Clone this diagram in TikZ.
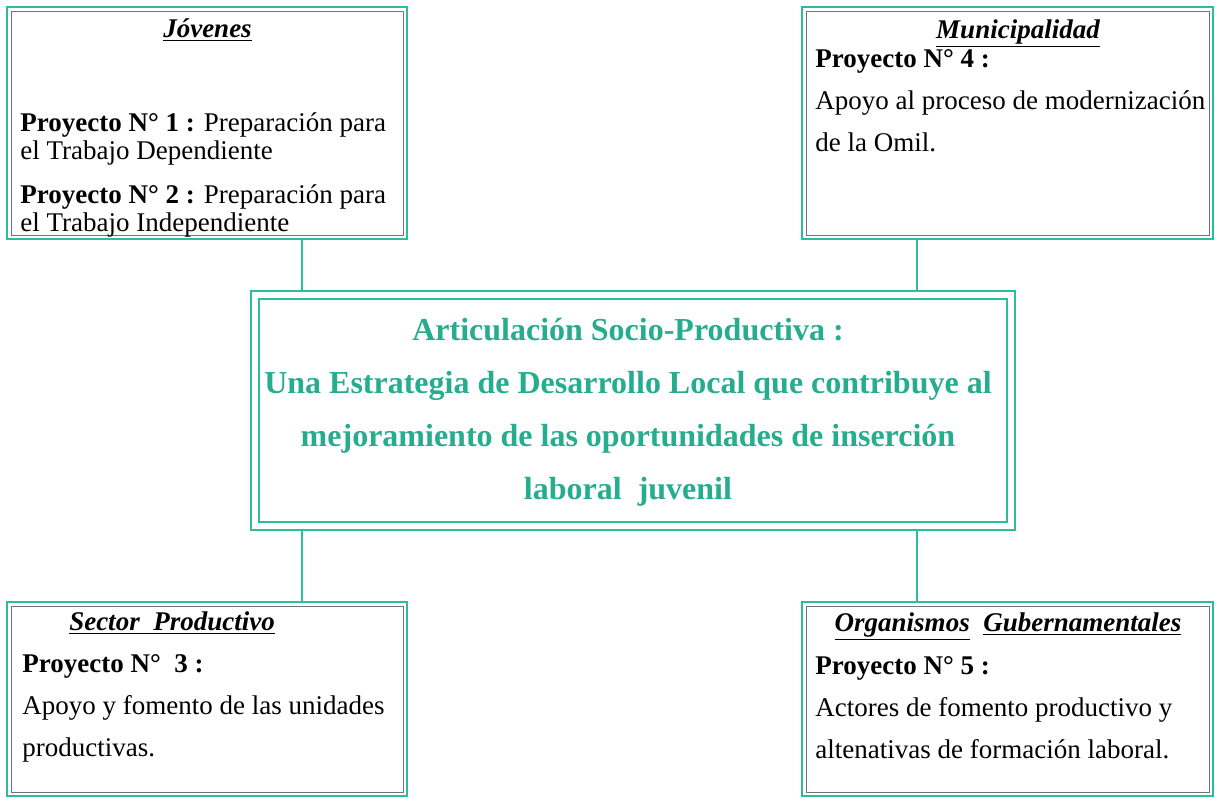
\documentclass[tikz,border=0pt]{standalone}
\usepackage{fontspec}
\setmainfont{Liberation Serif}
\usepackage{tikz}
\usetikzlibrary{positioning}
\definecolor{frameteal}{RGB}{44,188,158}
\definecolor{titleteal}{RGB}{38,172,142}

\begin{document}
\begin{tikzpicture}[x=0.5pt, y=-0.5pt,
  panel/.style={rectangle, draw=frameteal, line width=1pt, inner sep=0pt},
  hub/.style={rectangle, draw=frameteal, line width=1.1pt, double=white,
    double distance=2.8pt, outer sep=2.5pt, inner sep=0pt,
    minimum width=378pt, minimum height=115.5pt},
  head/.style={font=\fontsize{13.5}{16}\selectfont\bfseries\itshape, anchor=base, inner sep=0pt},
  body/.style={font=\fontsize{13.5}{21}\selectfont, align=left, anchor=base west, inner sep=0pt},
  lede/.style={font=\fontsize{16}{26.5}\selectfont\bfseries, text=titleteal, align=center,
    anchor=base, inner sep=0pt},
  link/.style={frameteal, line width=0.6pt}
]
\useasboundingbox (0,0) rectangle (1216,798);
% frames
\node[panel, minimum width=200pt, minimum height=116pt] (jov) at (207,123) {};
\node[panel, minimum width=205.5pt, minimum height=116pt] (mun) at (1007.5,123) {};
\node[panel, minimum width=200pt, minimum height=97pt] (sec) at (207,699) {};
\node[panel, minimum width=205.5pt, minimum height=97pt] (org) at (1007.5,699) {};
\node[hub] (hub) at (633,410.5) {};
\foreach \p in {jov,mun,sec,org}
  \draw[black!55, line width=0.5pt] ([shift={(2.5pt,-2.5pt)}]\p.north west) rectangle ([shift={(-2.5pt,2.5pt)}]\p.south east);
% texts (base = last line)
\node[head] (jovhead) at (207.5,37) {\underline{Jóvenes}};
\node[body, font=\fontsize{13.5}{14}\selectfont] (jovtxt) at (20,231)
  {\textbf{Proyecto N° 1 :} Preparación para\\ el Trabajo Dependiente\\[8pt]
   \textbf{Proyecto N° 2 :} Preparación para\\ el Trabajo Independiente};
\node[head] (munhead) at (1018,38) {\underline{Municipalidad}};
\node[body] (muntxt) at (815,151)
  {\textbf{Proyecto N° 4 :}\\ Apoyo al proceso de modernización\\ de la Omil.};
\node[head] (sechead) at (172,630) {\underline{Sector~~Productivo}};
\node[body] (sectxt) at (22,756)
  {\textbf{Proyecto N°~~3 :}\\ Apoyo y fomento de las unidades\\ productivas.};
\node[head] (orghead) at (1008,631) {\underline{Organismos}~~\underline{Gubernamentales}};
\node[body] (orgtxt) at (815,758)
  {\textbf{Proyecto N° 5 :}\\ Actores de fomento productivo y\\ altenativas de formación laboral.};
\node[lede] (hubtxt) at (628,499)
  {Articulación Socio-Productiva :\\ Una Estrategia de Desarrollo Local que contribuye al\\
   mejoramiento de las oportunidades de inserción\\ laboral~~juvenil};
% links
\coordinate (lx) at (302,0);
\coordinate (rx) at (917,0);
\draw[link] (jov.south -| lx) -- (hub.north -| lx);
\draw[link] (mun.south -| rx) -- (hub.north -| rx);
\draw[link] (hub.south -| lx) -- (sec.north -| lx);
\draw[link] (hub.south -| rx) -- (org.north -| rx);
\end{tikzpicture}
\end{document}
